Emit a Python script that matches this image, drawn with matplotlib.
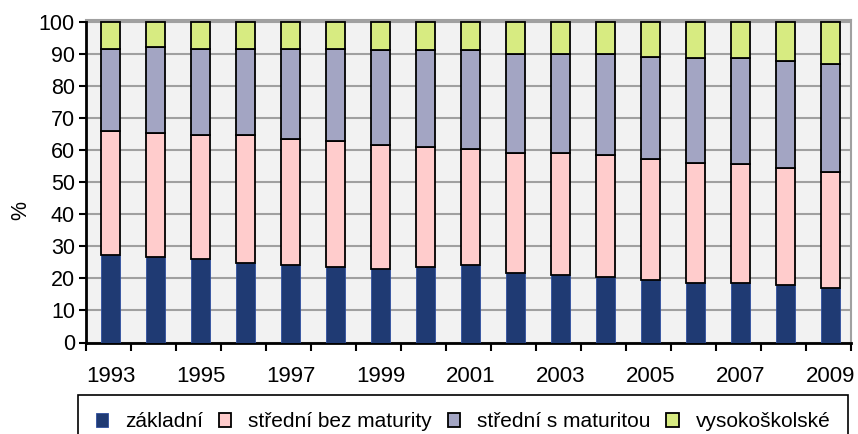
import numpy as np
import matplotlib
matplotlib.use("Agg")
import matplotlib.pyplot as plt

plt.rcParams['font.family'] = ['Liberation Sans', 'DejaVu Sans']

# roky a podily (v %)
roky = list(range(1993, 2010))
zakladni = [27.2, 26.7, 26.2, 24.9, 24.3, 23.7, 23.1, 23.7, 24.3, 21.8, 21.2, 20.6, 19.4, 18.7, 18.7, 18.1, 16.9]
do_bez_mat = [66.0, 65.4, 64.8, 64.7, 63.5, 62.9, 61.6, 61.0, 60.4, 59.1, 59.1, 58.6, 57.4, 56.1, 55.6, 54.4, 53.1]
do_s_mat = [91.7, 92.3, 91.7, 91.7, 91.7, 91.7, 91.2, 91.2, 91.2, 90.0, 90.0, 90.0, 89.3, 88.8, 88.8, 88.0, 86.9]

bez_mat = [b - a for a, b in zip(zakladni, do_bez_mat)]
s_mat = [b - a for a, b in zip(do_bez_mat, do_s_mat)]
vs = [100 - a for a in do_s_mat]

nazvy = ['základní', 'střední bez maturity', 'střední s maturitou', 'vysokoškolské']
barvy = ['#1F3A73', '#FFCCCC', '#A3A5C3', '#D7EB81']

fig = plt.figure(figsize=(8.58, 4.34), dpi=100)
ax = fig.add_axes([86/858, 1 - 342.5/434, 765/858, (342.5 - 20)/434])
ax.set_facecolor('#F2F2F2')

x = np.arange(len(roky))
w = 0.42
b1 = ax.bar(x, zakladni, w, color=barvy[0], edgecolor='#2F4F9F', linewidth=0.6, zorder=3)
b2 = ax.bar(x, bez_mat, w, bottom=zakladni, color=barvy[1], edgecolor='black', linewidth=1.3, zorder=3)
b3 = ax.bar(x, s_mat, w, bottom=do_bez_mat, color=barvy[2], edgecolor='black', linewidth=1.3, zorder=3)
b4 = ax.bar(x, vs, w, bottom=do_s_mat, color=barvy[3], edgecolor='black', linewidth=1.3, zorder=3)

ax.set_xlim(-0.55, 16.45)
ax.set_ylim(0, 100.7)
ax.set_yticks(range(0, 101, 10))
ax.yaxis.grid(True, color='#A0A0A0', linewidth=1.5, zorder=0)

# popisky let kazdy druhy rok, carky mezi sloupci
ax.set_xticks(x[::2])
ax.set_xticklabels([str(r) for r in roky[::2]])
ax.set_xticks(np.arange(18) - 0.55, minor=True)
ax.tick_params(axis='x', which='major', length=0, pad=17, labelsize=16)
ax.tick_params(axis='x', which='minor', length=6, width=1.5, direction='out')
ax.tick_params(axis='y', length=5, width=1.5, labelsize=15.5, pad=3)

for s in ['left', 'bottom']:
    ax.spines[s].set_linewidth(2)
    ax.spines[s].set_color('black')
for s in ['top', 'right']:
    ax.spines[s].set_linewidth(1.5)
    ax.spines[s].set_color('#A0A0A0')

ax.set_ylabel('%', fontsize=15.5)
ax.yaxis.set_label_coords(-0.071, 0.41)

leg = fig.legend([b1, b2, b3, b4], nazvy, loc='upper left', ncol=4,
                 bbox_to_anchor=(78/858, 1 - 399/434, 770/858, 0.01), mode='expand',
                 borderaxespad=0, fontsize=15, handlelength=0.6, handleheight=0.6,
                 handletextpad=0.8, columnspacing=1.2, fancybox=False,
                 edgecolor='black', framealpha=1, borderpad=0.85)
leg.get_frame().set_linewidth(1.2)

fig.savefig('out.png', dpi=100)
